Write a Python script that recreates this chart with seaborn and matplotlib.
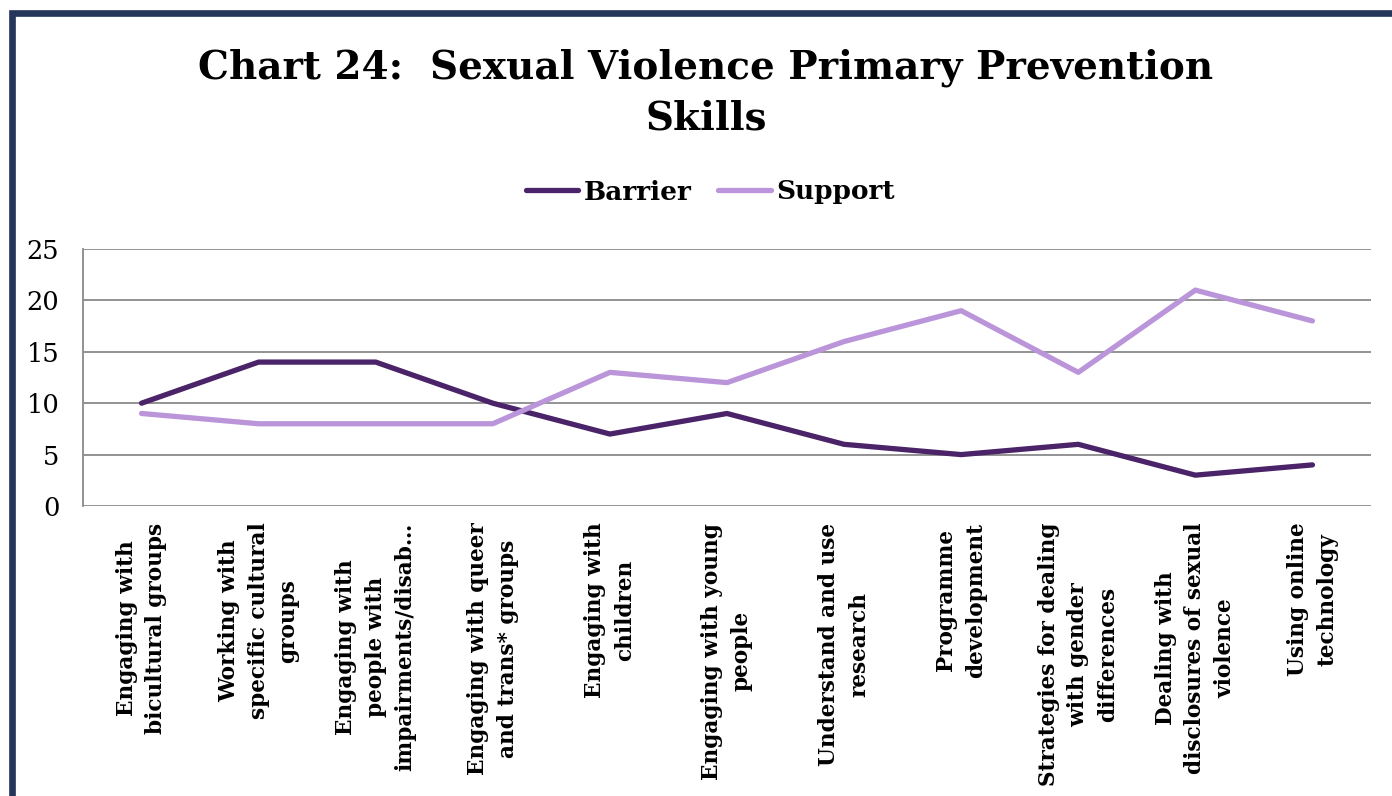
import matplotlib
matplotlib.use("Agg")
import matplotlib.pyplot as plt
import seaborn as sns
import pandas as pd
from matplotlib.patches import Rectangle
from matplotlib.lines import Line2D

categories = [
    "Engaging with\nbicultural groups",
    "Working with\nspecific cultural\ngroups",
    "Engaging with\npeople with\nimpairments/disab\u2026",
    "Engaging with queer\nand trans* groups",
    "Engaging with\nchildren",
    "Engaging with young\npeople",
    "Understand and use\nresearch",
    "Programme\ndevelopment",
    "Strategies for dealing\nwith gender\ndifferences",
    "Dealing with\ndisclosures of sexual\nviolence",
    "Using online\ntechnology",
]
barrier = [10, 14, 14, 10, 7, 9, 6, 5, 6, 3, 4]
support = [9, 8, 8, 8, 13, 12, 16, 19, 13, 21, 18]
series_names = ["Barrier", "Support"]
yticks = [0, 5, 10, 15, 20, 25]
title = "Chart 24:  Sexual Violence Primary Prevention\nSkills"

sns.set_theme(style="white")
plt.rcParams["font.family"] = ["DejaVu Serif"]
plt.rcParams["text.color"] = "black"
plt.rcParams["xtick.color"] = "black"
plt.rcParams["ytick.color"] = "black"

df = pd.DataFrame({
    "pos": list(range(len(categories))) * 2,
    "value": barrier + support,
    "series": [series_names[0]] * len(barrier) + [series_names[1]] * len(support),
})

fig = plt.figure(figsize=(13.92, 7.96), dpi=100)
ax = fig.add_axes([83 / 1392, 1 - 506 / 796, (1371 - 83) / 1392, (506 - 249) / 796])

palette = {"Barrier": "#4a2368", "Support": "#bb95d9"}
sns.lineplot(data=df, x="pos", y="value", hue="series", palette=palette,
             linewidth=3.8, ax=ax, legend=False, solid_capstyle="round")

ax.set_xlim(-0.5, len(categories) - 0.5)
ax.set_ylim(0, 25)
ax.set_yticks(yticks)
ax.set_yticklabels([str(v) for v in yticks], fontsize=18.5, color="black")
ax.set_xticks(range(len(categories)))
ax.set_xticklabels(categories, rotation=90, fontsize=15.6, fontweight="bold",
                   ha="center", va="top", multialignment="center",
                   linespacing=1.45, color="black")
ax.tick_params(axis="both", length=0)
ax.tick_params(axis="y", pad=17)
ax.tick_params(axis="x", pad=12)
ax.set_xlabel("")
ax.set_ylabel("")
ax.grid(axis="y", color="#8a8a8a", linewidth=1.3)
ax.set_axisbelow(True)
for s in ["top", "right", "bottom"]:
    ax.spines[s].set_visible(False)
ax.spines["left"].set_color("#8a8a8a")
ax.spines["left"].set_linewidth(1.3)

handles = [Line2D([0], [0], color=palette[n], linewidth=3.8) for n in series_names]
fig.legend(handles, series_names, loc="center", bbox_to_anchor=(710 / 1392, 1 - 192 / 796),
           ncol=2, frameon=False, prop={"weight": "bold", "size": 19},
           handlelength=2.0, handletextpad=0.2, columnspacing=1.0, labelcolor="black")

fig.text(706 / 1392, 1 - 93 / 796, title, ha="center", va="center", color="black",
         fontsize=28, fontweight="bold", linespacing=1.42)

fig.patches.append(Rectangle((12 / 1392, -0.05), 1.2, 1 - 13 / 796 + 0.05,
                             transform=fig.transFigure, fill=False,
                             edgecolor="#26355a", linewidth=4.8, zorder=10))

fig.savefig("out.png", dpi=100)
